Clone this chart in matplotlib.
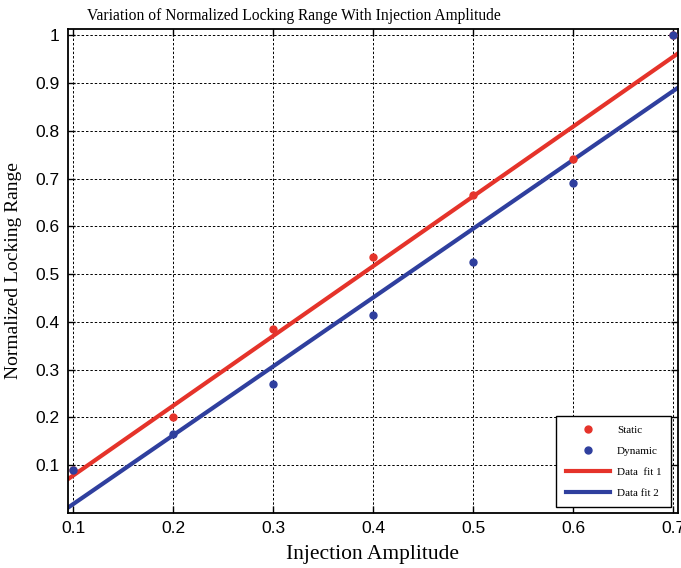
import numpy as np
import matplotlib
matplotlib.use("Agg")
import matplotlib.pyplot as plt

amplitude = [0.1, 0.2, 0.3, 0.4, 0.5, 0.6, 0.7]
static = [0.09, 0.20, 0.385, 0.535, 0.665, 0.74, 1.0]
dynamic = [0.09, 0.165, 0.27, 0.415, 0.525, 0.69, 1.0]
xticks = [0.1, 0.2, 0.3, 0.4, 0.5, 0.6, 0.7]
yticks = [0.1, 0.2, 0.3, 0.4, 0.5, 0.6, 0.7, 0.8, 0.9, 1.0]

red = "#e5332a"
blue = "#2f3f9e"

fig = plt.figure(figsize=(6.81, 5.68), dpi=100)
ax = fig.add_axes([68/681, 1-513/568, (678-68)/681, (513-29)/568])

xlim = (0.095, 0.705)
xs = np.array(xlim)
p1 = np.polyfit(amplitude, static, 1)
p2 = np.polyfit(amplitude, dynamic, 1)

ax.plot(amplitude, static, 'o', color=red, ms=5, label='Static', zorder=3)
ax.plot(amplitude, dynamic, 'o', color=blue, ms=5, label='Dynamic', zorder=3)
ax.plot(xs, np.polyval(p1, xs), '-', color=red, lw=3, label='Data  fit 1', zorder=2)
ax.plot(xs, np.polyval(p2, xs), '-', color=blue, lw=3, label='Data fit 2', zorder=2)

ax.set_xlim(*xlim)
ax.set_ylim(0, 1.013)
ax.set_xticks(xticks)
ax.set_yticks(yticks)
ax.set_xticklabels([f"{v:g}" for v in xticks], family="Liberation Sans", fontsize=12.5)
ax.set_yticklabels([f"{v:g}" for v in yticks], family="Liberation Sans", fontsize=12.5)
ax.tick_params(direction='in', top=True, right=True, length=5, width=1, pad=6)
ax.grid(True, color='black', linestyle=(0, (2.5, 2)), linewidth=0.7)
for s in ax.spines.values():
    s.set_linewidth(1.3)

fig.text(294/681, 1-20/568, "Variation of Normalized Locking Range With Injection Amplitude",
         family="Liberation Serif", fontsize=11.2, ha='center', va='baseline')
ax.set_xlabel("Injection Amplitude", family="Liberation Serif", fontsize=15.5, labelpad=6)
ax.set_ylabel("Normalized Locking Range", family="Liberation Serif", fontsize=14, labelpad=10)

leg = ax.legend(loc='lower right', prop={'family': 'Liberation Serif', 'size': 8},
                fancybox=False, edgecolor='black', framealpha=1, borderpad=0.85,
                labelspacing=1.0, handlelength=4.0, handletextpad=0.6,
                borderaxespad=0, bbox_to_anchor=(1-7/610, 6/484))
leg.get_frame().set_linewidth(1.0)

fig.savefig("out.png", dpi=100)
